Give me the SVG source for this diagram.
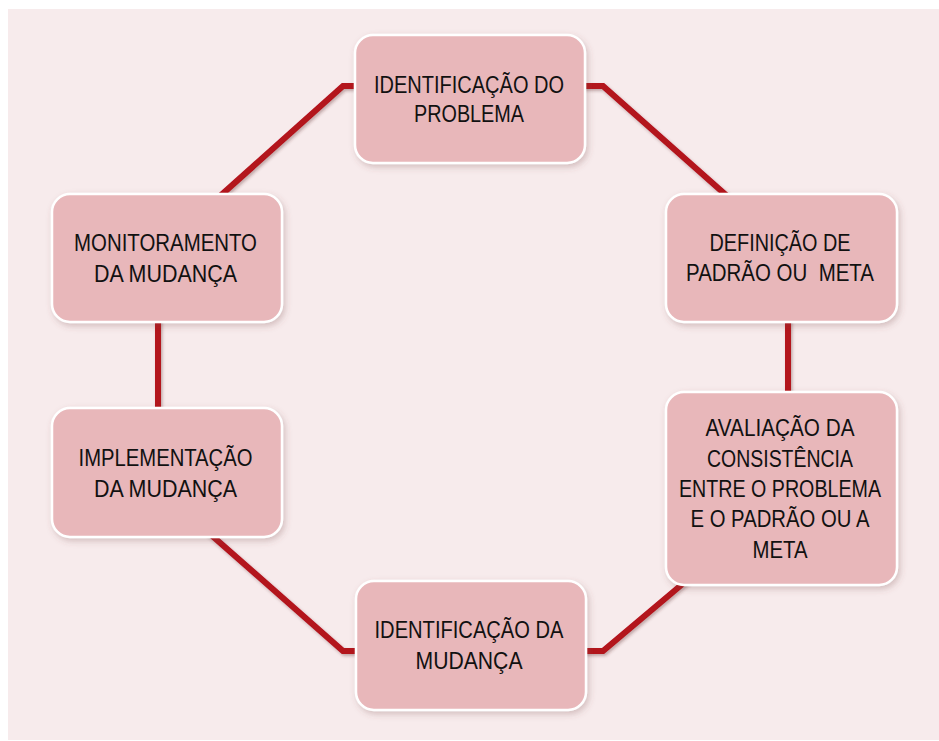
<svg xmlns="http://www.w3.org/2000/svg" width="939" height="741" viewBox="0 0 939 741">
  <defs>
    <filter id="sh" x="-20%" y="-20%" width="140%" height="140%">
      <feDropShadow dx="2" dy="3" stdDeviation="3" flood-color="#7a4a4e" flood-opacity="0.28"/>
    </filter>
    <filter id="lsh" x="-20%" y="-20%" width="140%" height="140%">
      <feDropShadow dx="1.5" dy="2" stdDeviation="1.5" flood-color="#5a2a2e" flood-opacity="0.35"/>
    </filter>
  </defs>
  <style>
    .box { fill: #e8b7ba; stroke: #ffffff; stroke-width: 2.5; filter: url(#sh); }
    .lbl { font-family: "Liberation Sans", Arial, sans-serif; font-size: 24px; fill: #111111; text-anchor: middle; }
    .con { fill: none; stroke: #b3121c; stroke-width: 6; stroke-linejoin: miter; stroke-linecap: butt; }
  </style>
  <rect x="0" y="0" width="939" height="741" fill="#ffffff"/>
  <rect x="8" y="9" width="931" height="731" fill="#f7ebec"/>

  <g id="connectors" filter="url(#lsh)">
    <polyline class="con" points="210,205 343,86 370,86"/>
    <polyline class="con" points="570,86 603,86 735,203"/>
    <polyline class="con" points="788,310 788,400"/>
    <polyline class="con" points="570,651 603,651 692,576"/>
    <polyline class="con" points="201,526 343,651 370,651"/>
    <polyline class="con" points="158,310 158,420"/>
  </g>

  <g id="identificacao-problema">
    <rect class="box" x="355" y="35" width="230" height="128" rx="18"/>
    <text class="lbl" x="469" y="93" textLength="190" lengthAdjust="spacingAndGlyphs">IDENTIFICAÇÃO DO</text>
    <text class="lbl" x="469" y="122" textLength="110" lengthAdjust="spacingAndGlyphs">PROBLEMA</text>
  </g>

  <g id="definicao-padrao">
    <rect class="box" x="666" y="194" width="231" height="128" rx="18"/>
    <text class="lbl" x="780" y="251" textLength="141" lengthAdjust="spacingAndGlyphs">DEFINIÇÃO DE</text>
    <text class="lbl" x="780" y="281" textLength="188" lengthAdjust="spacingAndGlyphs">PADRÃO OU&#160; META</text>
  </g>

  <g id="avaliacao-consistencia">
    <rect class="box" x="666" y="392" width="231" height="193" rx="18"/>
    <text class="lbl" x="780" y="436" textLength="149" lengthAdjust="spacingAndGlyphs">AVALIAÇÃO DA</text>
    <text class="lbl" x="780" y="467" textLength="146" lengthAdjust="spacingAndGlyphs">CONSISTÊNCIA</text>
    <text class="lbl" x="780" y="497" textLength="202" lengthAdjust="spacingAndGlyphs">ENTRE O PROBLEMA</text>
    <text class="lbl" x="780" y="527" textLength="179" lengthAdjust="spacingAndGlyphs">E O PADRÃO OU A</text>
    <text class="lbl" x="780" y="558" textLength="55" lengthAdjust="spacingAndGlyphs">META</text>
  </g>

  <g id="identificacao-mudanca">
    <rect class="box" x="356" y="581" width="230" height="129" rx="18"/>
    <text class="lbl" x="469" y="638" textLength="189" lengthAdjust="spacingAndGlyphs">IDENTIFICAÇÃO DA</text>
    <text class="lbl" x="469" y="669" textLength="107" lengthAdjust="spacingAndGlyphs">MUDANÇA</text>
  </g>

  <g id="implementacao-mudanca">
    <rect class="box" x="52" y="408" width="230" height="129" rx="18"/>
    <text class="lbl" x="165.5" y="466" textLength="174" lengthAdjust="spacingAndGlyphs">IMPLEMENTAÇÃO</text>
    <text class="lbl" x="165.5" y="497" textLength="143" lengthAdjust="spacingAndGlyphs">DA MUDANÇA</text>
  </g>

  <g id="monitoramento-mudanca">
    <rect class="box" x="52" y="194" width="230" height="128" rx="18"/>
    <text class="lbl" x="165.5" y="251" textLength="183" lengthAdjust="spacingAndGlyphs">MONITORAMENTO</text>
    <text class="lbl" x="165.5" y="282" textLength="143" lengthAdjust="spacingAndGlyphs">DA MUDANÇA</text>
  </g>
</svg>
